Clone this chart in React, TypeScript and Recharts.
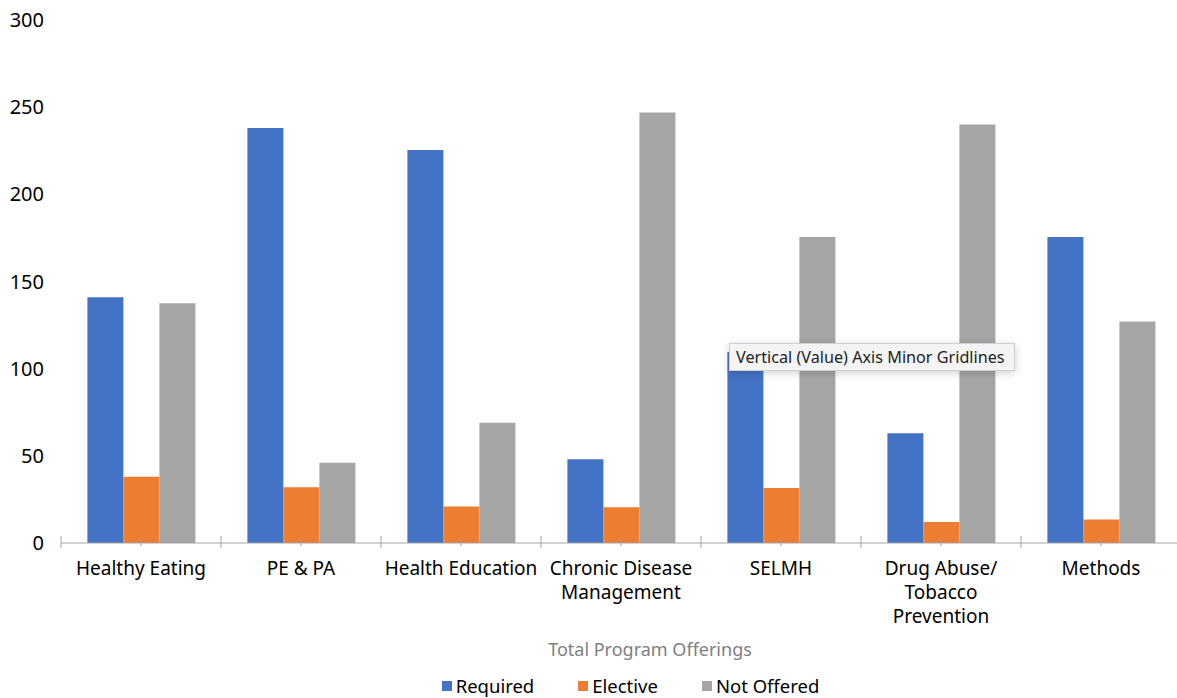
import React from "react";
import { BarChart, Bar, XAxis, YAxis, Legend } from "recharts";

const categories = [
  "Healthy Eating",
  "PE & PA",
  "Health Education",
  "Chronic Disease Management",
  "SELMH",
  "Drug Abuse/ Tobacco Prevention",
  "Methods",
];

// wrapped tick labels, one entry per category
const tickLabels = [
  ["Healthy Eating"],
  ["PE & PA"],
  ["Health Education"],
  ["Chronic Disease", "Management"],
  ["SELMH"],
  ["Drug Abuse/", "Tobacco", "Prevention"],
  ["Methods"],
];

const required = [141, 238, 225.5, 48, 109.5, 63, 175.5];
const elective = [38, 32, 21, 20.5, 31.5, 12, 13.5];
const notOffered = [137.5, 46, 69, 247, 175.5, 240, 127];

const yTicks = [0, 50, 100, 150, 200, 250, 300];

const FONT = "'Noto Sans', sans-serif";
const AXIS_COLOR = "#a3a3a3";
const BAND = 160;

const data = categories.map((name, i) => ({
  name,
  required: required[i],
  elective: elective[i],
  notOffered: notOffered[i],
}));

const CategoryTick = (props: any) => {
  const { x, y, index } = props;
  const lines = tickLabels[index] || [];
  return (
    <g>
      <line x1={x} x2={x} y1={y - 5} y2={y + 3} stroke={AXIS_COLOR} />
      <line x1={x - BAND / 2} x2={x - BAND / 2} y1={y - 7} y2={y + 5} stroke={AXIS_COLOR} />
      {index === categories.length - 1 && (
        <line x1={x + BAND / 2} x2={x + BAND / 2} y1={y - 7} y2={y + 5} stroke={AXIS_COLOR} />
      )}
      <text x={x} y={y} textAnchor="middle" fontFamily={FONT} fontSize={19} fill="#000">
        {lines.map((l: string, i: number) => (
          <tspan key={i} x={x} dy={i === 0 ? 32 : 24}>
            {l}
          </tspan>
        ))}
      </text>
    </g>
  );
};

const legendItems = [
  { label: "Required", color: "#4472C4" },
  { label: "Elective", color: "#ED7D31" },
  { label: "Not Offered", color: "#A5A5A5" },
];

const LegendContent = () => (
  <div
    style={{
      display: "flex",
      justifyContent: "center",
      alignItems: "center",
      height: 25,
      paddingLeft: 80,
      fontFamily: FONT,
      fontSize: 18.5,
      color: "#000",
    }}
  >
    {legendItems.map((it, i) => (
      <div
        key={it.label}
        style={{ display: "flex", alignItems: "center", marginLeft: i === 0 ? 0 : 44 }}
      >
        <span
          style={{ width: 10, height: 10, background: it.color, display: "inline-block", marginRight: 4 }}
        />
        <span>{it.label}</span>
      </div>
    ))}
  </div>
);

export default function App() {
  return (
    <div
      style={{
        position: "absolute",
        left: 0,
        top: 0,
        width: 1177,
        height: 698,
        overflow: "hidden",
        background: "#fff",
      }}
    >
      <BarChart
        width={1181}
        height={698}
        data={data}
        margin={{ top: 20, right: 0, left: 0, bottom: 0 }}
        barCategoryGap="16.5%"
        barGap={0}
      >
        <XAxis
          dataKey="name"
          interval={0}
          axisLine={{ stroke: AXIS_COLOR }}
          tickLine={false}
          tickSize={0}
          tickMargin={0}
          height={130}
          tick={<CategoryTick />}
          label={(p: any) => {
            const vb = p.viewBox;
            return (
              <text
                x={vb.x + vb.width / 2 + 29}
                y={vb.y + 113}
                textAnchor="middle"
                fontFamily={FONT}
                fontSize={18}
                fill="#7f7f7f"
              >
                Total Program Offerings
              </text>
            );
          }}
        />
        <YAxis
          domain={[0, 300]}
          ticks={yTicks}
          interval={0}
          axisLine={false}
          tickLine={false}
          tickSize={0}
          tickMargin={17}
          width={61}
          tick={{ fill: "#000", fontSize: 20, fontFamily: FONT }}
        />
        <Legend verticalAlign="bottom" height={25} content={<LegendContent />} />
        <Bar dataKey="required" name="Required" fill="#4472C4" isAnimationActive={false} />
        <Bar dataKey="elective" name="Elective" fill="#ED7D31" isAnimationActive={false} />
        <Bar dataKey="notOffered" name="Not Offered" fill="#A5A5A5" isAnimationActive={false} />
      </BarChart>
      <div
        style={{
          position: "absolute",
          left: 729,
          top: 343,
          width: 286,
          height: 28,
          boxSizing: "border-box",
          background: "#f4f4f4",
          border: "1px solid #d0d0d0",
          boxShadow: "0 2px 8px rgba(0,0,0,0.18)",
          fontFamily: FONT,
          fontSize: 16.2,
          color: "#222",
          lineHeight: "26px",
          paddingLeft: 6,
          whiteSpace: "nowrap",
        }}
      >
        Vertical (Value) Axis Minor Gridlines
      </div>
    </div>
  );
}
